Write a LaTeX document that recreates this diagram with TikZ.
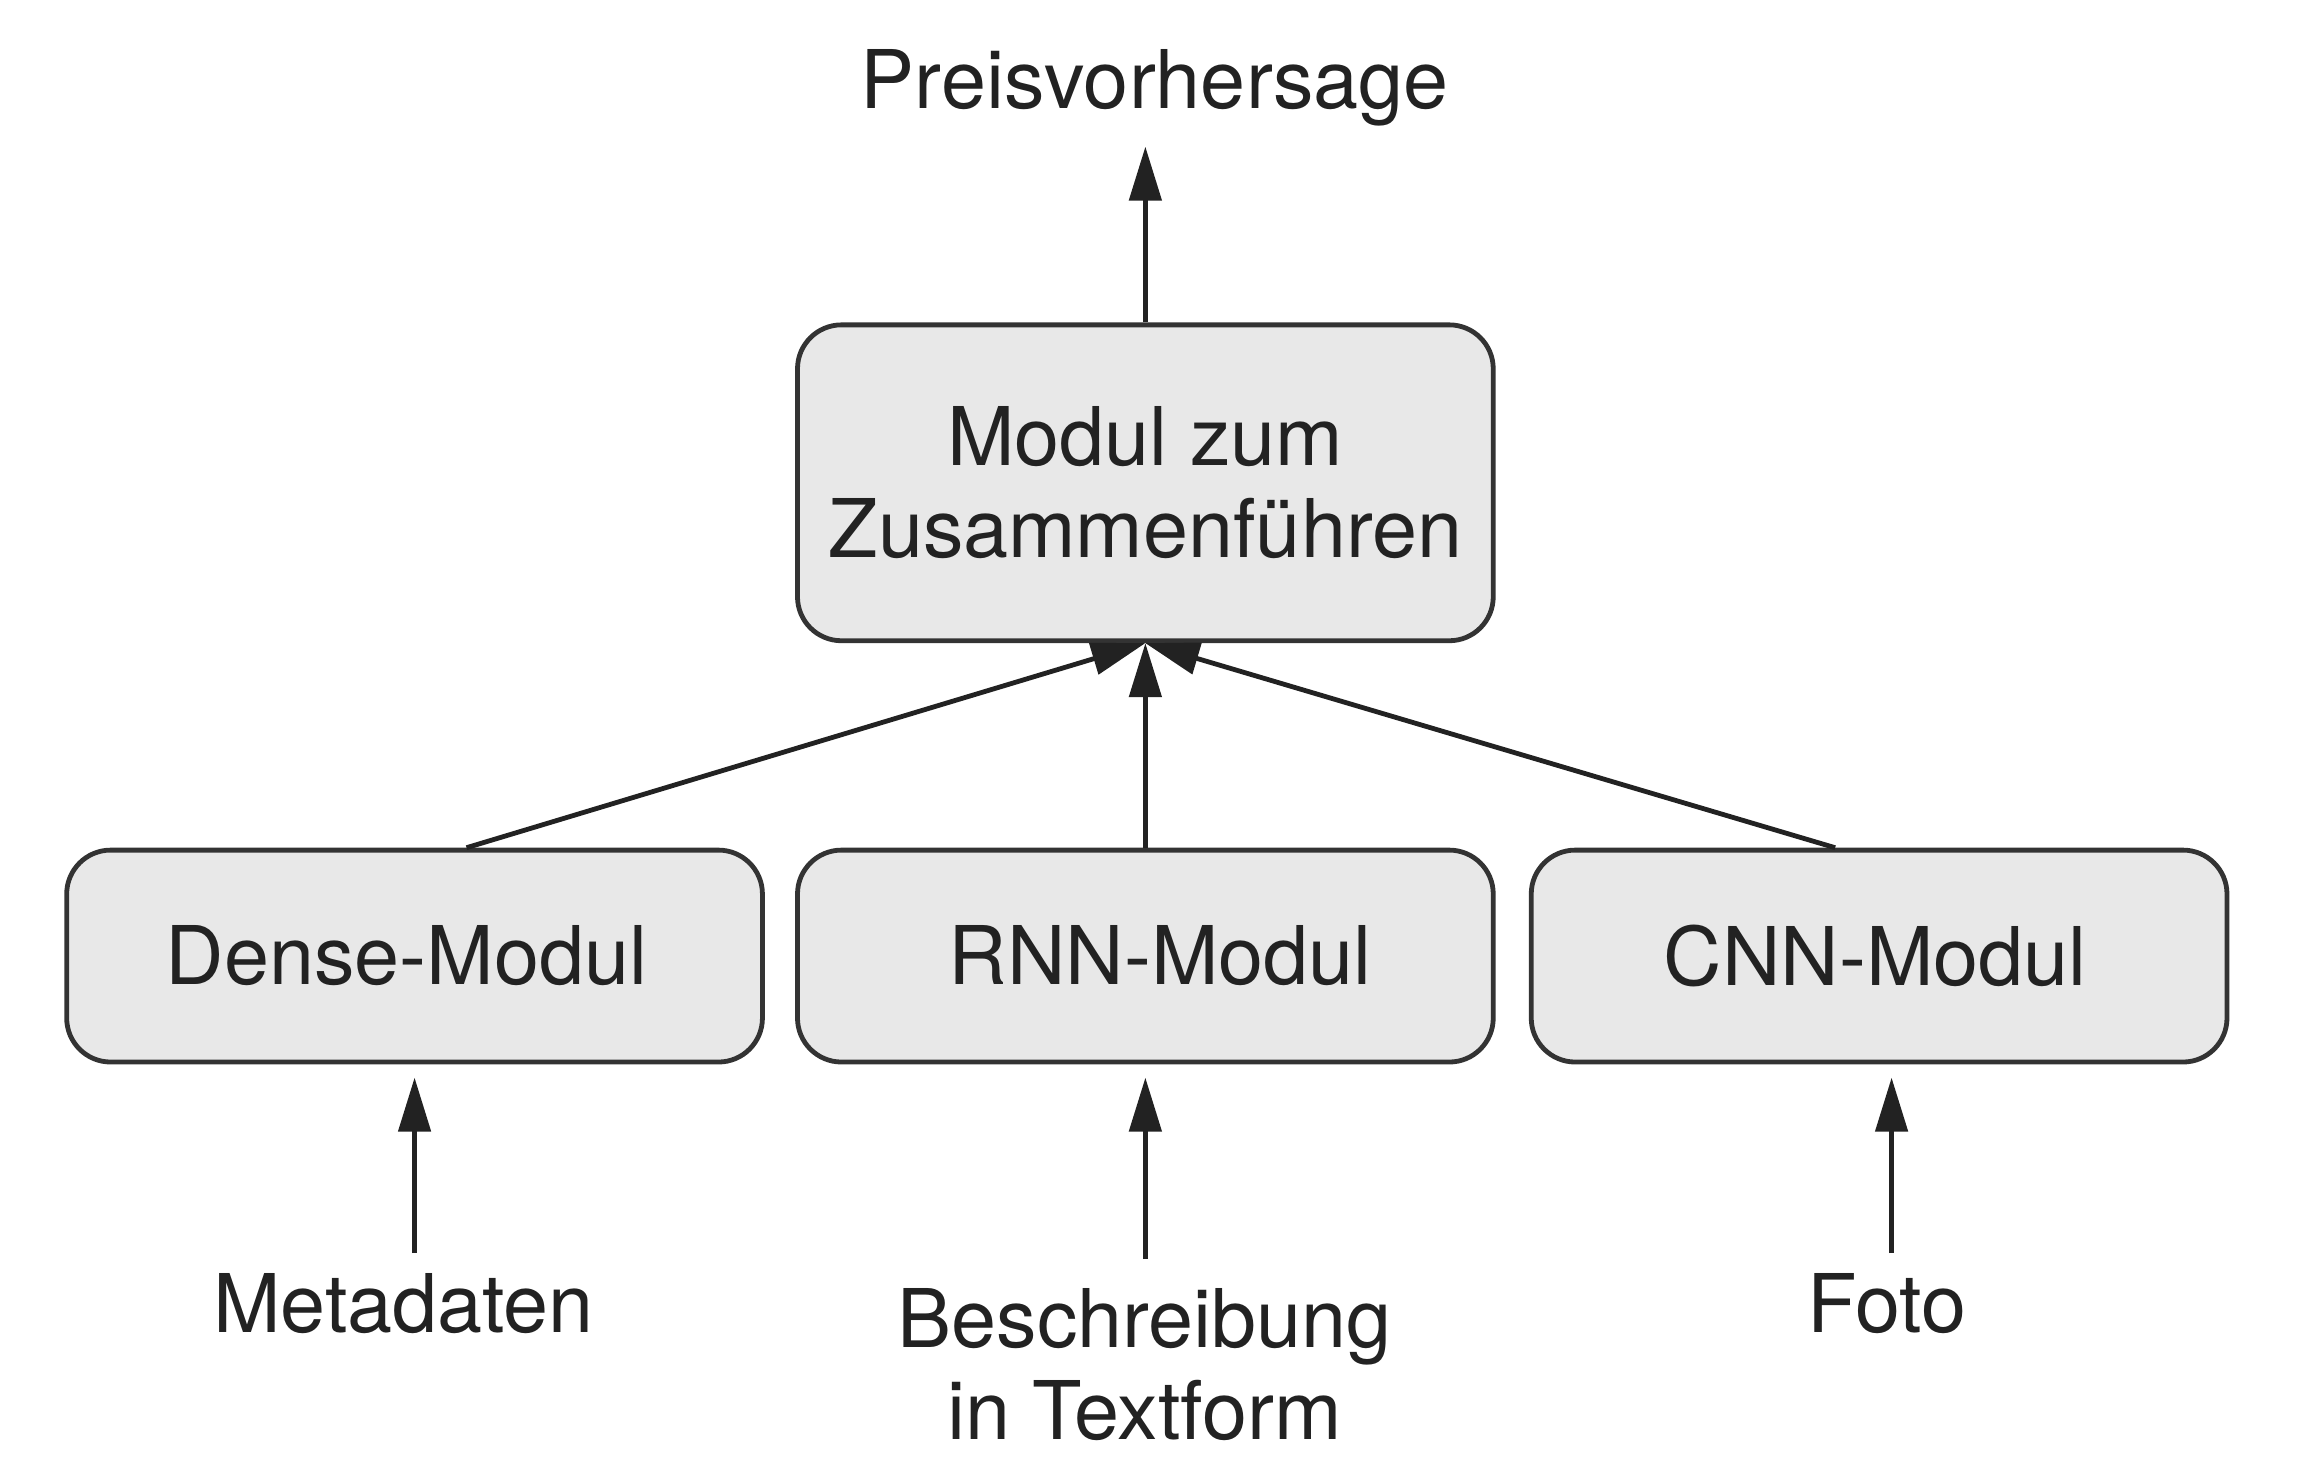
\documentclass[tikz,border=0pt]{standalone}
\usepackage{fontspec}
\setmainfont{TeX Gyre Heros}
\usetikzlibrary{arrows.meta}
\definecolor{boxfill}{HTML}{E8E8E8}
\definecolor{boxline}{HTML}{333333}
\definecolor{ink}{HTML}{222222}
\begin{document}
\begin{tikzpicture}[x=0.734pt,y=-0.734pt,
  every node/.style={font=\fontsize{40.5pt}{46pt}\selectfont, text=ink},
  modbox/.style={draw=boxline, fill=boxfill, line width=2.4pt, rounded corners=22pt,
    minimum width=348pt, minimum height=106pt, inner sep=0pt, align=center},
  lbl/.style={inner sep=0pt, align=center},
  arr/.style={draw=ink, line width=2.4pt, -{Triangle[length=27pt,width=16pt]}}
]
\useasboundingbox (0,0) rectangle (1568,1008);
\node[modbox, minimum height=158pt] (merge) at (780.5,329) {Modul zum\\Zusammenführen};
\node[modbox] (dense) at (282.5,651.5) {Dense-Modul\hspace*{8pt}};
\node[modbox] (rnn) at (780.5,651.5) {\hspace*{15pt}RNN-Modul};
\node[modbox] (cnn) at (1280.5,651.5) {CNN-Modul\hspace*{4pt}};
\node[lbl, anchor=base] (preis) at (787,74) {Preisvorhersage};
\node[lbl, anchor=base] (meta) at (275,908) {Metadaten};
\node[lbl, anchor=north] (beschr) at (780,878) {Beschreibung\\in Textform};
\node[lbl, anchor=base] (foto) at (1286,908) {Foto};
% arrows
\draw[arr, shorten >=10pt] (merge.north) -- (merge.north |- preis.south);
\draw[arr] ([xshift=26pt]dense.north) -- (merge.south);
\draw[arr] (rnn.north) -- (merge.south);
\draw[arr] ([xshift=-22pt]cnn.north) -- (merge.south);
\draw[arr, shorten <=10pt, shorten >=6.6pt] (meta.north -| dense.south) -- (dense.south);
\draw[arr, shorten <=14.7pt, shorten >=6.6pt] (beschr.north -| rnn.south) -- (rnn.south);
\draw[arr, shorten <=10pt, shorten >=6.6pt] ([xshift=2.2pt]foto.north) -- ([xshift=2.2pt]foto.north |- cnn.south);
\end{tikzpicture}
\end{document}
